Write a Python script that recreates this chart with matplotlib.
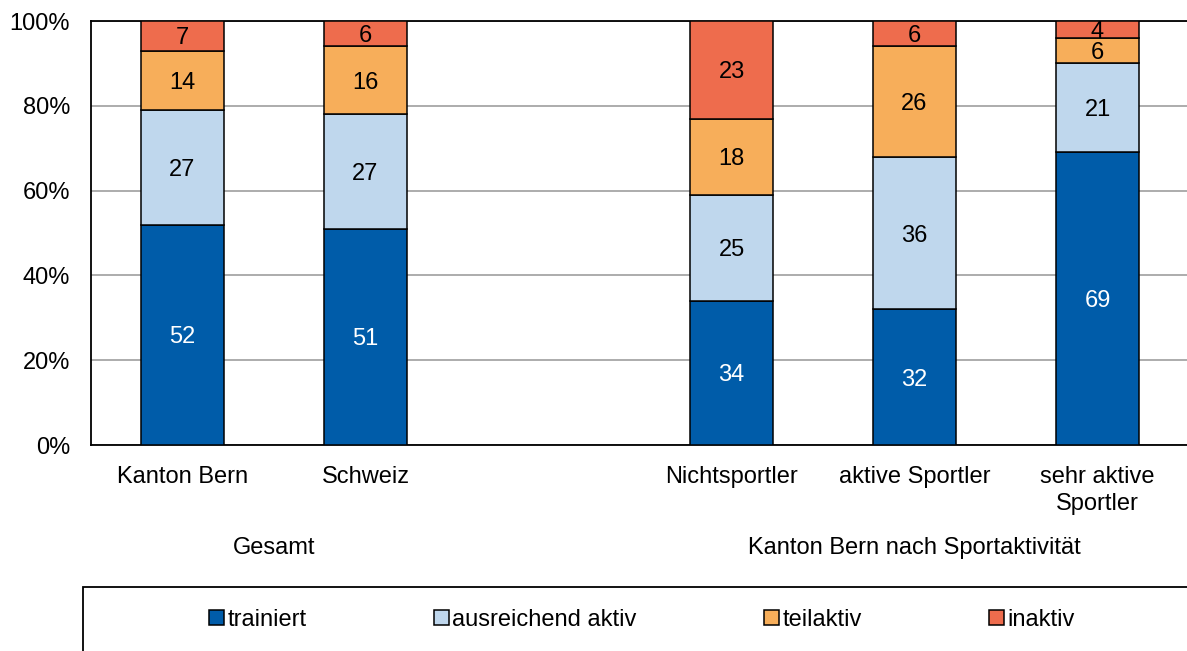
import numpy as np
import matplotlib.pyplot as plt
from matplotlib.patches import Rectangle

plt.rcParams['font.family'] = ['Liberation Sans', 'DejaVu Sans']

categories = ["Kanton Bern", "Schweiz", "", "Nichtsportler", "aktive Sportler", "sehr aktive\nSportler"]
series_names = ["trainiert", "ausreichend aktiv", "teilaktiv", "inaktiv"]
trainiert = [52, 51, None, 34, 32, 69]
ausreichend = [27, 27, None, 25, 36, 21]
teilaktiv = [14, 16, None, 18, 26, 6]
inaktiv = [7, 6, None, 23, 6, 4]
groups = ["Gesamt", "Kanton Bern nach Sportaktivität"]
group_members = [(0, 1), (3, 5)]

colors = ["#005CA9", "#BFD7ED", "#F7AE5A", "#EE6C4D"]
label_colors = ["white", "black", "black", "black"]
FS = 17

fig = plt.figure(figsize=(11.87, 6.51), dpi=100)
ax = fig.add_axes([91 / 1187, 1 - 445 / 651, 1098 / 1187, 424 / 651])

x = np.arange(len(categories))
bottoms = np.zeros(len(categories))
handles = []
for vals, name, col, lc in zip([trainiert, ausreichend, teilaktiv, inaktiv], series_names, colors, label_colors):
    idx = [i for i, v in enumerate(vals) if v is not None]
    v = np.array([vals[i] for i in idx], dtype=float)
    b = bottoms[idx]
    bars = ax.bar(x[idx], v, bottom=b, width=0.455, color=col, edgecolor="black",
                  linewidth=1.1, label=name, zorder=3)
    handles.append(bars)
    for xi, vi, bi in zip(x[idx], v, b):
        ax.text(xi, bi + vi / 2, f"{int(vi)}", ha="center", va="center_baseline",
                fontsize=FS, color=lc, zorder=4)
    bottoms[idx] += v

ax.set_xlim(-0.5, 5.5)
ax.set_ylim(0, 100)
ax.set_yticks(np.arange(0, 101, 20))
ax.set_yticklabels([f"{t}%" for t in range(0, 101, 20)], fontsize=FS)
ax.set_xticks(x)
ax.set_xticklabels(categories, fontsize=FS, va="top", linespacing=1.3)
ax.tick_params(axis="both", length=0)
ax.tick_params(axis="y", pad=15)
ax.tick_params(axis="x", pad=15)
ax.yaxis.grid(True, color="#A6A6A6", linewidth=1.3, zorder=0)
ax.set_axisbelow(True)
for s in ax.spines.values():
    s.set_color("black")
    s.set_linewidth(1.3)

# group captions below the category labels
for g, (a, b) in zip(groups, group_members):
    xc = (a + b) / 2
    xf = ax.transData.transform((xc, 0))[0] / fig.bbox.width
    fig.text(xf, 1 - 548 / 651, g, ha="center", va="center", fontsize=FS)

# legend with an open-ended frame
fig.patches.append(Rectangle((83 / 1187, -0.05), 1.2, (651 - 587) / 651 + 0.05,
                             transform=fig.transFigure, fill=False,
                             edgecolor="black", linewidth=1.3))
leg = fig.legend(handles=handles, labels=series_names, loc="center",
                 bbox_to_anchor=(642 / 1187, 1 - 620 / 651), ncol=4, frameon=False,
                 fontsize=FS, handlelength=0.62, handleheight=0.62, handletextpad=0.15,
                 columnspacing=5.4)

fig.savefig("out.png", dpi=100)
